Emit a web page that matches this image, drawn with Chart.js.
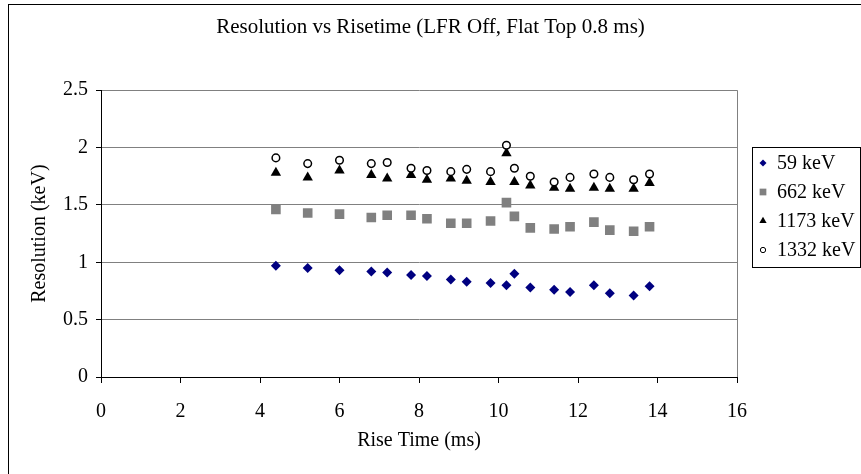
<!doctype html>
<html lang="en">
  <head>
    <meta charset="utf-8">
    <title>Resolution vs Risetime</title>
    <style>
      * {
        margin: 0;
        padding: 0;
      }
      body {
        background: white;
      }
      .chartBox {
        width: 861px;
        height: 474px;
      }
    </style>
  </head>
  <body>
    <div class="chartBox">
      <canvas id="myChart" width="861" height="474"></canvas>
    </div>
    <script src="https://cdn.jsdelivr.net/npm/chart.js/dist/chart.umd.min.js"></script>
    <script>
    // values
    const riseTime = [4.4, 5.2, 6.0, 6.8, 7.2, 7.8, 8.2, 8.8, 9.2, 9.8, 10.2, 10.4, 10.8, 11.4, 11.8, 12.4, 12.8, 13.4, 13.8];
    const res59   = [0.97, 0.95, 0.93, 0.92, 0.91, 0.89, 0.88, 0.85, 0.83, 0.82, 0.80, 0.90, 0.78, 0.76, 0.74, 0.80, 0.73, 0.71, 0.79];
    const res662  = [1.46, 1.43, 1.42, 1.39, 1.41, 1.41, 1.38, 1.34, 1.34, 1.36, 1.52, 1.40, 1.30, 1.29, 1.31, 1.35, 1.28, 1.27, 1.31];
    const res1173 = [1.78, 1.74, 1.80, 1.76, 1.73, 1.76, 1.72, 1.73, 1.71, 1.70, 1.95, 1.70, 1.67, 1.65, 1.64, 1.65, 1.64, 1.64, 1.69];
    const res1332 = [1.91, 1.86, 1.89, 1.86, 1.87, 1.82, 1.80, 1.79, 1.81, 1.79, 2.02, 1.82, 1.75, 1.70, 1.74, 1.77, 1.74, 1.72, 1.77];

    const seriesNames = ['59 keV', '662 keV', '1173 keV', '1332 keV'];
    const xTicks = [0, 2, 4, 6, 8, 10, 12, 14, 16];
    const xTickLabels = ['0', '2', '4', '6', '8', '10', '12', '14', '16'];
    const yTicks = [0, 0.5, 1, 1.5, 2, 2.5];
    const yTickLabels = ['0', '0.5', '1', '1.5', '2', '2.5'];

    const font = { family: "'Liberation Serif', 'Times New Roman', serif", size: 20, weight: 'normal' };
    const titleFont = { family: font.family, size: 21, weight: 'normal' };

    function points(ys) {
      return riseTime.map((x, i) => ({ x: x, y: ys[i] }));
    }

    // setup
    const data = {
      datasets: [
        { label: seriesNames[0], data: points(res59), order: 4,
          pointStyle: 'rectRot', pointRadius: 5, backgroundColor: '#000080', borderColor: '#000080', borderWidth: 0 },
        { label: seriesNames[1], data: points(res662), order: 3,
          pointStyle: 'rect', pointRadius: 6.8, backgroundColor: '#808080', borderColor: '#808080', borderWidth: 0 },
        { label: seriesNames[2], data: points(res1173), order: 2,
          pointStyle: 'triangle', pointRadius: 6, backgroundColor: '#000000', borderColor: '#000000', borderWidth: 0 },
        { label: seriesNames[3], data: points(res1332), order: 1,
          pointStyle: 'circle', pointRadius: 3.8, backgroundColor: '#ffffff', borderColor: '#000000', borderWidth: 1.5 }
      ]
    };

    // a box on the right of the plot that holds the framed legend
    const legendBox = {
      id: 'legendBox',
      beforeInit(chart) {
        const box = {
          position: 'right',
          weight: 1000,
          fullSize: false,
          options: {},
          left: 0, top: 0, right: 0, bottom: 0, width: 0, height: 0,
          isHorizontal() { return false; },
          update(maxWidth, maxHeight) {
            this.width = 124;
            this.height = maxHeight;
          },
          draw() {
            const ctx = chart.ctx;
            const left = Math.round(this.left) + 15;
            const top = 147;
            ctx.save();
            ctx.strokeStyle = '#000000';
            ctx.lineWidth = 1;
            ctx.strokeRect(left + 0.5, top + 0.5, 108, 120);
            ctx.font = font.size + 'px ' + font.family;
            ctx.textBaseline = 'middle';
            chart.data.datasets.forEach((ds, i) => {
              const y = top + 16 + i * 29;
              ctx.fillStyle = ds.backgroundColor;
              ctx.strokeStyle = ds.borderColor;
              Chart.helpers.drawPoint(ctx, {
                pointStyle: ds.pointStyle,
                radius: ds.pointRadius * 0.7,
                rotation: 0,
                borderWidth: ds.borderWidth
              }, left + 11, y);
              ctx.fillStyle = '#000000';
              ctx.fillText(ds.label, left + 25, y + 1);
            });
            ctx.restore();
          }
        };
        Chart.layouts.addBox(chart, box);
      }
    };

    // outer frame and right edge of the plot
    const frame = {
      id: 'frame',
      beforeDraw(chart) {
        const ctx = chart.ctx;
        ctx.save();
        ctx.fillStyle = '#ffffff';
        ctx.fillRect(0, 0, chart.width, chart.height);
        ctx.strokeStyle = '#000000';
        ctx.lineWidth = 1;
        ctx.strokeRect(8.5, 4.5, chart.width + 20, chart.height + 20);
        ctx.restore();
      },
      beforeDatasetsDraw(chart) {
        const ctx = chart.ctx;
        const a = chart.chartArea;
        ctx.save();
        ctx.strokeStyle = '#808080';
        ctx.lineWidth = 1;
        ctx.beginPath();
        ctx.moveTo(Math.round(a.right) + 0.5, a.top);
        ctx.lineTo(Math.round(a.right) + 0.5, a.bottom);
        ctx.stroke();
        ctx.restore();
      }
    };

    // config
    const config = {
      type: 'scatter',
      data,
      options: {
        responsive: false,
        animation: false,
        devicePixelRatio: 1,
        layout: { padding: 0 },
        plugins: {
          legend: { display: false },
          tooltip: { enabled: false },
          title: {
            display: true,
            text: 'Resolution vs Risetime (LFR Off, Flat Top 0.8 ms)',
            color: '#000000',
            font: titleFont,
            padding: { top: 15, bottom: 50 }
          }
        },
        scales: {
          x: {
            type: 'linear',
            min: 0,
            max: 16,
            afterBuildTicks: (s) => { s.ticks = xTicks.map(v => ({ value: v })); },
            afterFit: (s) => { s.height = 97; },
            ticks: {
              color: '#000000',
              font: font,
              padding: 17,
              callback: (v) => xTickLabels[xTicks.indexOf(v)]
            },
            grid: { drawOnChartArea: false, tickColor: '#000000', tickLength: 6 },
            border: { color: '#000000', width: 1 },
            title: {
              display: true,
              text: 'Rise Time (ms)',
              color: '#000000',
              font: font,
              padding: { top: 0, bottom: 21 }
            }
          },
          y: {
            type: 'linear',
            min: 0,
            max: 2.5,
            afterBuildTicks: (s) => { s.ticks = yTicks.map(v => ({ value: v })); },
            afterFit: (s) => { s.width = 101; },
            ticks: {
              color: '#000000',
              font: font,
              padding: 8,
              callback: (v) => yTickLabels[yTicks.indexOf(v)]
            },
            grid: { color: '#808080', tickColor: '#000000', tickLength: 5 },
            border: { color: '#000000', width: 1 },
            title: {
              display: true,
              text: 'Resolution (keV)',
              color: '#000000',
              font: font,
              padding: { top: 28, bottom: 0 }
            }
          }
        }
      },
      plugins: [legendBox, frame]
    };

    // render init block
    const myChart = new Chart(document.getElementById('myChart'), config);
    </script>
  </body>
</html>
